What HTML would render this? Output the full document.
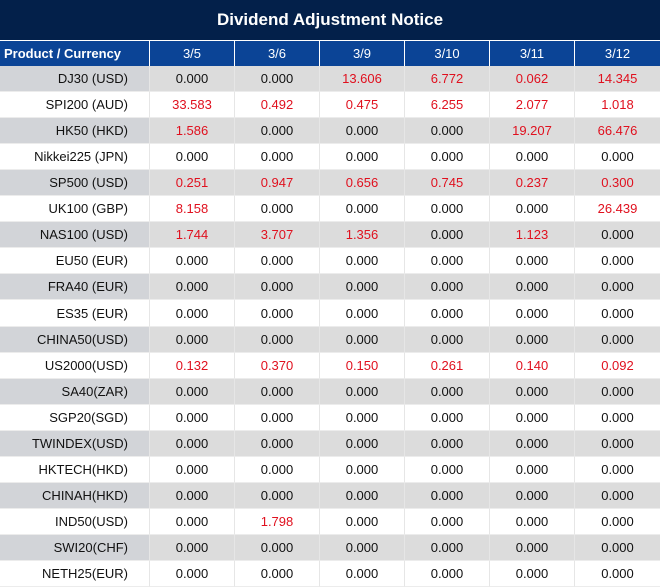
<!DOCTYPE html>
<html><head><meta charset="utf-8"><style>
body{margin:0;width:660px;height:587px;overflow:hidden;background:#fff;font-family:"Liberation Sans","DejaVu Sans",sans-serif;position:relative}
.t{position:absolute;left:0;top:0;width:660px;height:40px;background:#03204a;color:#fff;font-weight:bold;font-size:17px;text-align:center;line-height:40px}
.c{position:absolute;box-sizing:border-box;font-size:13px;text-align:center;color:#111}
.h{background:#0b4496;color:#fff;border-left:1px solid #fff}
.p{text-align:right;padding-right:21px}
.r{color:#e0101e}
</style></head><body>
<div class="t">Dividend Adjustment Notice</div>
<div id="g"></div>
<script>
(function(){
var cols=[0,149,234,319,404,489,574,660];
var hd=["Product / Currency","3/5","3/6","3/9","3/10","3/11","3/12"];
var d=[["DJ30 (USD)","0.000","0.000","13.606","6.772","0.062","14.345"],
["SPI200 (AUD)","33.583","0.492","0.475","6.255","2.077","1.018"],
["HK50 (HKD)","1.586","0.000","0.000","0.000","19.207","66.476"],
["Nikkei225 (JPN)","0.000","0.000","0.000","0.000","0.000","0.000"],
["SP500 (USD)","0.251","0.947","0.656","0.745","0.237","0.300"],
["UK100 (GBP)","8.158","0.000","0.000","0.000","0.000","26.439"],
["NAS100 (USD)","1.744","3.707","1.356","0.000","1.123","0.000"],
["EU50 (EUR)"],["FRA40 (EUR)"],["ES35 (EUR)"],["CHINA50(USD)"],
["US2000(USD)","0.132","0.370","0.150","0.261","0.140","0.092"],
["SA40(ZAR)"],["SGP20(SGD)"],["TWINDEX(USD)"],["HKTECH(HKD)"],["CHINAH(HKD)"],
["IND50(USD)","0.000","1.798","0.000","0.000","0.000","0.000"],
["SWI20(CHF)"],["NETH25(EUR)"]];
var h="";
for(var j=0;j<7;j++){h+='<div class="c h" style="left:'+cols[j]+'px;top:41px;width:'+(cols[j+1]-cols[j])+'px;height:25px;line-height:25px;'+(j==0?'text-align:left;padding-left:4px;font-weight:bold;border-left:0;':'')+'">'+hd[j]+'</div>';}
for(var i=0;i<20;i++){var y0=66+Math.round(i*26.05),y1=66+Math.round((i+1)*26.05);var ht=y1-y0;var odd=i%2==0;
for(var j=0;j<7;j++){var v=d[i][j]!==undefined?d[i][j]:"0.000";var bg=odd?(j==0?"#d2d4d8":"#dcdcdc"):"#fff";
var red=j>0&&v!="0.000";
h+='<div class="c'+(j==0?' p':'')+(red?' r':'')+'" style="left:'+cols[j]+'px;top:'+y0+'px;width:'+(cols[j+1]-cols[j])+'px;height:'+ht+'px;line-height:'+ht+'px;background:'+bg+';border-left:'+(j?'1px solid #e6e6e6':'0')+';border-bottom:1px solid #ececec">'+v+'</div>';}}
document.getElementById("g").innerHTML=h;
})();
</script>
</body></html>
